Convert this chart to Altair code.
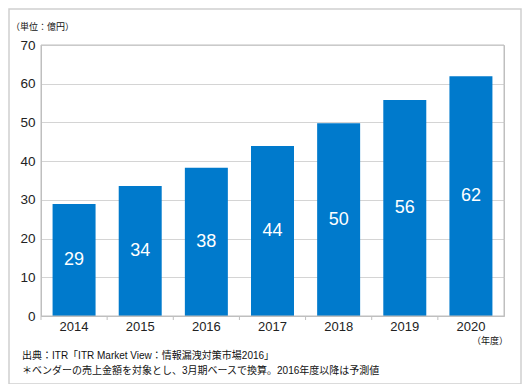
import altair as alt
import pandas as pd

years = ["2014", "2015", "2016", "2017", "2018", "2019", "2020"]
values = [28.9, 33.6, 38.3, 43.9, 49.8, 55.8, 61.9]
labels = ["29", "34", "38", "44", "50", "56", "62"]
y_ticks = [0, 10, 20, 30, 40, 50, 60, 70]

unit_text = "（単位：億円）"
xunit_text = "（年度）"
source_text = "出典：ITR「ITR Market View：情報漏洩対策市場2016」"
note_text = "＊ベンダーの売上金額を対象とし、3月期ベースで換算。2016年度以降は予測値"

df = pd.DataFrame({"year": years, "value": values, "label": labels})
df["mid"] = df["value"] / 2

FONT = "Liberation Sans, Noto Sans CJK JP, sans-serif"

W, H = 463, 271
STEP = W / len(years)

xscale = alt.Scale(domain=years, paddingInner=0.35, paddingOuter=0.175)
yscale = alt.Scale(domain=[0, 70], nice=False)

xaxis = alt.Axis(labelAngle=0, labelFont=FONT, labelFontSize=13,
                 labelColor="#222222", ticks=False, domain=True,
                 domainColor="#bfbfbf", labelPadding=4, title=None)
yaxis = alt.Axis(values=y_ticks, labelFont=FONT, labelFontSize=13.5,
                 labelColor="#222222", ticks=False, domain=True,
                 domainColor="#bfbfbf", gridColor="#d4d4d4",
                 labelPadding=6, labelOverlap=False, title=None)

bars = alt.Chart(df).mark_bar(color="#007ACC").encode(
    x=alt.X("year:N", sort=years, scale=xscale, axis=xaxis),
    y=alt.Y("value:Q", scale=yscale, axis=yaxis),
)

text = alt.Chart(df).mark_text(
    color="white", font=FONT, fontSize=18, baseline="middle"
).encode(x=alt.X("year:N", sort=years, scale=xscale, axis=xaxis),
         y=alt.Y("mid:Q", scale=yscale, axis=yaxis), text="label:N")

ticks = alt.Chart(df).mark_rule(color="#bfbfbf", strokeWidth=1).encode(
    x=alt.X("year:N", sort=years, scale=xscale, axis=xaxis, bandPosition=0),
    xOffset=alt.value(-0.175 * STEP),
    y=alt.value(H), y2=alt.value(H + 4),
)

box = alt.Chart(pd.DataFrame({"a": [0]})).mark_rect(
    fill=None, stroke="#bfbfbf", strokeWidth=1
).encode(x=alt.value(0), x2=alt.value(W), y=alt.value(0), y2=alt.value(H))

frame = alt.Chart(pd.DataFrame({"a": [1]})).mark_rect(
    fill=None, stroke="#d0d0d0", strokeWidth=1.5
).encode(x=alt.value(-32), x2=alt.value(480), y=alt.value(-36), y2=alt.value(339))

notes = pd.DataFrame({
    "t": [unit_text, xunit_text, source_text, note_text],
    "px": [-30, 431, -19, -19],
    "py": [-18, H + 25, H + 40, H + 55],
    "fs": [9, 9, 10, 10],
})

def note(i):
    r = notes.iloc[i]
    return alt.Chart(notes.iloc[[i]]).mark_text(
        font=FONT, fontSize=float(r.fs), color="#111111", align="left", baseline="middle"
    ).encode(x=alt.value(float(r.px)), y=alt.value(float(r.py)), text="t:N")

chart = alt.layer(
    frame, bars, text, ticks, box,
    note(0), note(1), note(2), note(3),
).properties(
    width=W, height=H,
    autosize=alt.AutoSizeParams(type="none"),
    padding={"left": 33, "top": 37, "right": 18, "bottom": 68},
).configure_view(stroke="#bfbfbf", strokeWidth=1)

chart.save("out.html", embed_options={"renderer": "svg", "actions": False})
